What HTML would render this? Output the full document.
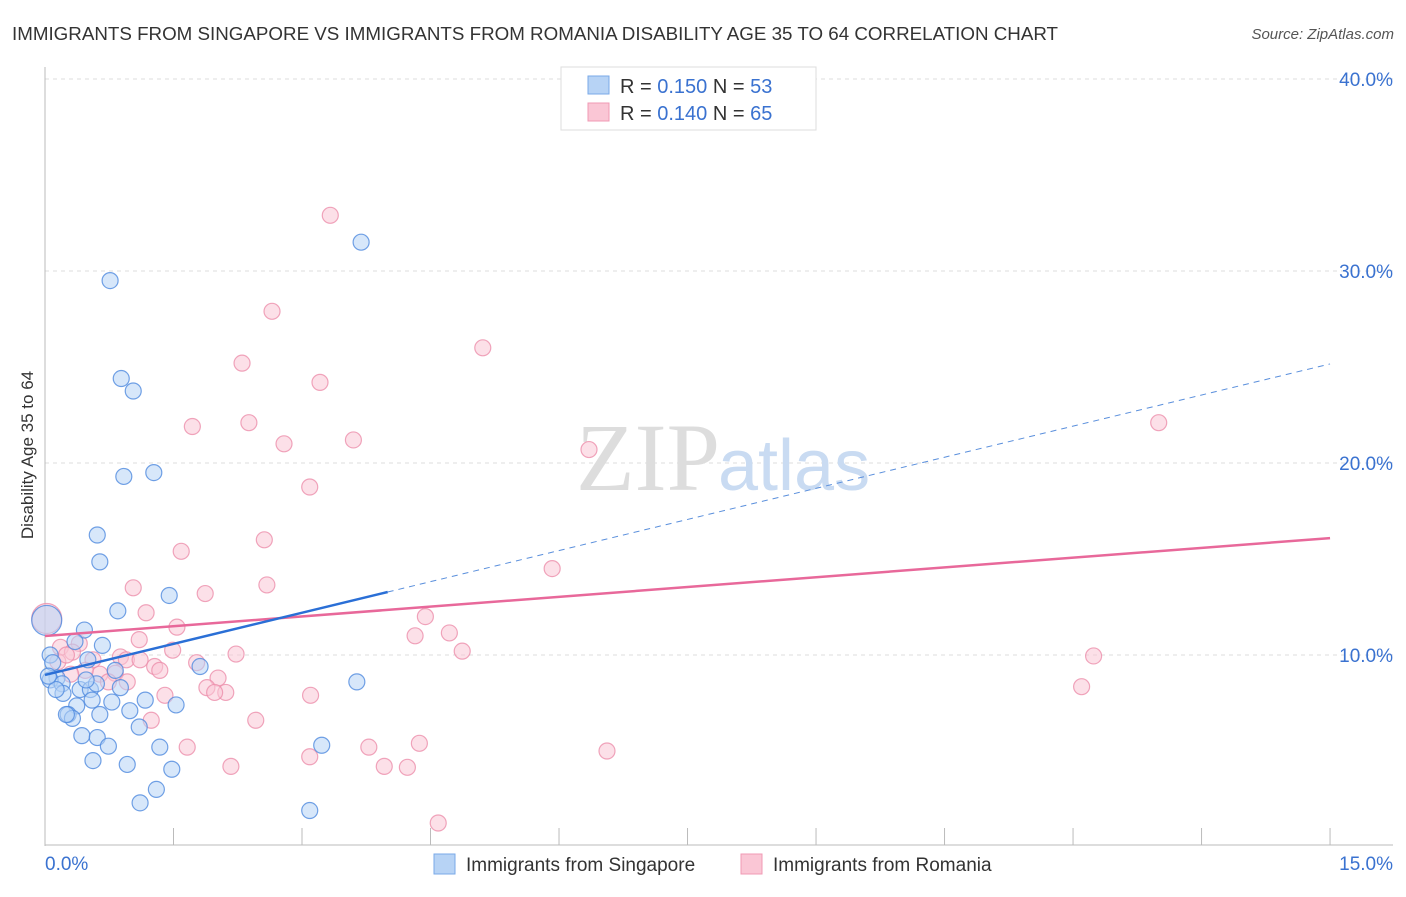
<!DOCTYPE html>
<html><head><meta charset="utf-8"><style>
body{margin:0;background:#fff;font-family:"Liberation Sans",sans-serif;}
svg text{font-family:"Liberation Sans",sans-serif;}
</style></head><body>
<svg id="chart" width="1406" height="892" viewBox="0 0 1406 892">
<text x="12" y="40" font-size="18" fill="#333" textLength="1046" lengthAdjust="spacingAndGlyphs">IMMIGRANTS FROM SINGAPORE VS IMMIGRANTS FROM ROMANIA DISABILITY AGE 35 TO 64 CORRELATION CHART</text>
<text x="1394" y="39" font-size="15" fill="#555" font-style="italic" text-anchor="end">Source: ZipAtlas.com</text>
<g id="grid"></g>
<text x="720" y="490" font-size="96" font-family="Liberation Serif" fill="#ddd" text-anchor="end" style="font-family:'Liberation Serif',serif">ZIP</text>
<text x="718" y="490" font-size="72" fill="#c9dbf2">atlas</text>
<g id="axes"></g>
<g id="pts"></g>
<g id="lines"></g>
<text transform="translate(33,455) rotate(-90)" font-size="17" fill="#333" text-anchor="middle">Disability Age 35 to 64</text>
<g>
<rect x="561" y="67" width="255" height="63" fill="#fff" stroke="#ddd"/>
<rect x="588" y="76" width="21" height="18" fill="#b7d3f5" stroke="#7aaae8"/>
<rect x="588" y="103" width="21" height="18" fill="#fac6d5" stroke="#f09ab4"/>
<text x="620" y="93" font-size="20" fill="#333">R = <tspan fill="#3a72d0">0.150</tspan>   N = <tspan fill="#3a72d0">53</tspan></text>
<text x="620" y="120" font-size="20" fill="#333">R = <tspan fill="#3a72d0">0.140</tspan>   N = <tspan fill="#3a72d0">65</tspan></text>
</g>
<g>
<rect x="434" y="854" width="21" height="20" fill="#b7d3f5" stroke="#7aaae8"/>
<text x="466" y="871" font-size="19" fill="#333">Immigrants from Singapore</text>
<rect x="741" y="854" width="21" height="20" fill="#fac6d5" stroke="#f09ab4"/>
<text x="773" y="871" font-size="19" fill="#333">Immigrants from Romania</text>
</g>
</svg>
<script>
const yTicks=[10,20,30,40];
const yTickLabels=["10.0%","20.0%","30.0%","40.0%"];
const xTicks=[0,1.5,3,4.5,6,7.5,9,10.5,12,13.5,15];
const xEndLabels=["0.0%","15.0%"];
const sgX=[0.76,3.69,0.89,1.03,0.92,1.27,0.61,0.64,1.45,0.85,0.46,0.67,0.35,0.06,0.50,0.82,1.81,0.14,0.06,0.20,0.41,0.53,0.88,3.64,0.21,0.55,0.78,0.37,0.99,1.53,0.27,0.32,1.10,0.43,0.61,0.74,1.34,3.23,0.56,0.96,1.48,1.30,1.11,3.09,0.02,0.09,0.13,0.25,0.04,0.60,0.48,0.64,1.17];
const sgY=[29.5,31.5,24.4,23.75,19.3,19.5,16.25,14.85,13.1,12.3,11.3,10.5,10.7,10.0,9.75,9.2,9.4,8.8,8.7,8.5,8.2,8.2,8.3,8.6,8.0,7.65,7.55,7.35,7.1,7.4,6.9,6.7,6.25,5.8,5.7,5.25,5.2,5.3,4.5,4.3,4.05,3.0,2.3,1.9,11.8,9.6,8.2,6.9,8.9,8.5,8.7,6.9,7.65];
const roX=[3.33,2.65,5.11,2.30,3.21,1.72,2.38,3.60,2.79,6.35,13.0,3.09,2.56,1.59,5.92,2.59,1.03,1.87,1.18,4.44,1.54,4.32,4.72,1.10,0.40,0.18,0.32,1.49,2.23,4.87,12.24,0.88,0.95,1.28,1.77,0.56,1.34,0.82,0.64,0.96,2.02,0.74,1.89,2.11,1.98,12.1,1.40,3.10,1.24,2.46,1.66,3.78,4.37,6.56,3.09,2.17,3.96,4.23,4.59,0.02,0.15,0.25,0.47,1.11,0.30];
const roY=[32.9,27.9,26.0,25.2,24.2,21.9,22.1,21.2,21.0,20.7,22.1,18.75,16.0,15.4,14.5,13.65,13.5,13.2,12.2,12.0,11.45,11.0,11.15,10.8,10.6,10.4,10.15,10.25,10.05,10.2,9.95,9.9,9.75,9.4,9.6,9.75,9.2,9.05,9.0,8.6,8.8,8.6,8.3,8.05,8.05,8.35,7.9,7.9,6.6,6.6,5.2,5.2,5.4,5.0,4.7,4.2,4.2,4.15,1.25,11.9,9.65,10.0,9.2,9.75,9.0];
const sgTrend=[8.96,1.08]; // intercept, slope
const roTrend=[10.99,0.34];
const sgSolidEnd=4.0, trendEnd=15;
const NS="http://www.w3.org/2000/svg";
const X=v=>45+v*85.67, Y=v=>847-v*19.2;
function mk(tag,attrs,parent){const e=document.createElementNS(NS,tag);for(const k in attrs)e.setAttribute(k,attrs[k]);document.getElementById(parent).appendChild(e);return e;}
yTicks.forEach((t,i)=>{
 const l=mk('line',{x1:45,x2:1393,y1:Y(t),y2:Y(t),stroke:'#ddd','stroke-dasharray':'4,4'},'grid');
 
 
 const tx=mk('text',{x:1393,y:Y(t)+7,'font-size':19,fill:'#3a72d0','text-anchor':'end'},'axes');
 tx.textContent=yTickLabels[i];
 
 
});
let a=mk('line',{x1:45,x2:45,y1:67,y2:846,stroke:'#bbb'},'axes');


a=mk('line',{x1:45,x2:1393,y1:845,y2:845,stroke:'#bbb'},'axes');


xTicks.forEach(t=>{
 const l=mk('line',{x1:X(t),x2:X(t),y1:828,y2:845,stroke:'#bbb'},'axes');
 
 
});
[[0,'start',45],[15,'end',1393]].forEach((d,i)=>{
 const tx=mk('text',{x:d[2],y:870,'font-size':19,fill:'#3a72d0','text-anchor':d[1]},'axes');
 tx.textContent=xEndLabels[i];
 
 
});
function dots(xs,ys,fill,stroke,name){
 xs.forEach((x,i)=>{
  const big=(x<0.05&&ys[i]>11.5);
  const c=mk('circle',{cx:X(x),cy:Y(ys[i]),r:big?15:8,fill:fill,'fill-opacity':0.55,stroke:stroke,'stroke-opacity':0.8,'stroke-width':1.2},'pts');
  
  
 });
}
dots(roX,roY,'#fac6d5','#ec8eab','romania-point');
dots(sgX,sgY,'#b7d3f5','#4f8ade','singapore-point');
const f=(t,x)=>t[0]+t[1]*x;
let l=mk('line',{x1:X(0),y1:Y(f(roTrend,0)),x2:X(trendEnd),y2:Y(f(roTrend,trendEnd)),stroke:'#e8689a','stroke-width':2.5},'lines');


l=mk('line',{x1:X(0),y1:Y(f(sgTrend,0)),x2:X(sgSolidEnd),y2:Y(f(sgTrend,sgSolidEnd)),stroke:'#2a6fd6','stroke-width':2.5},'lines');


l=mk('line',{x1:X(sgSolidEnd),y1:Y(f(sgTrend,sgSolidEnd)),x2:X(trendEnd),y2:Y(f(sgTrend,trendEnd)),stroke:'#5a8fdc','stroke-width':1,'stroke-dasharray':'6,5'},'lines');


</script>
</body></html>
